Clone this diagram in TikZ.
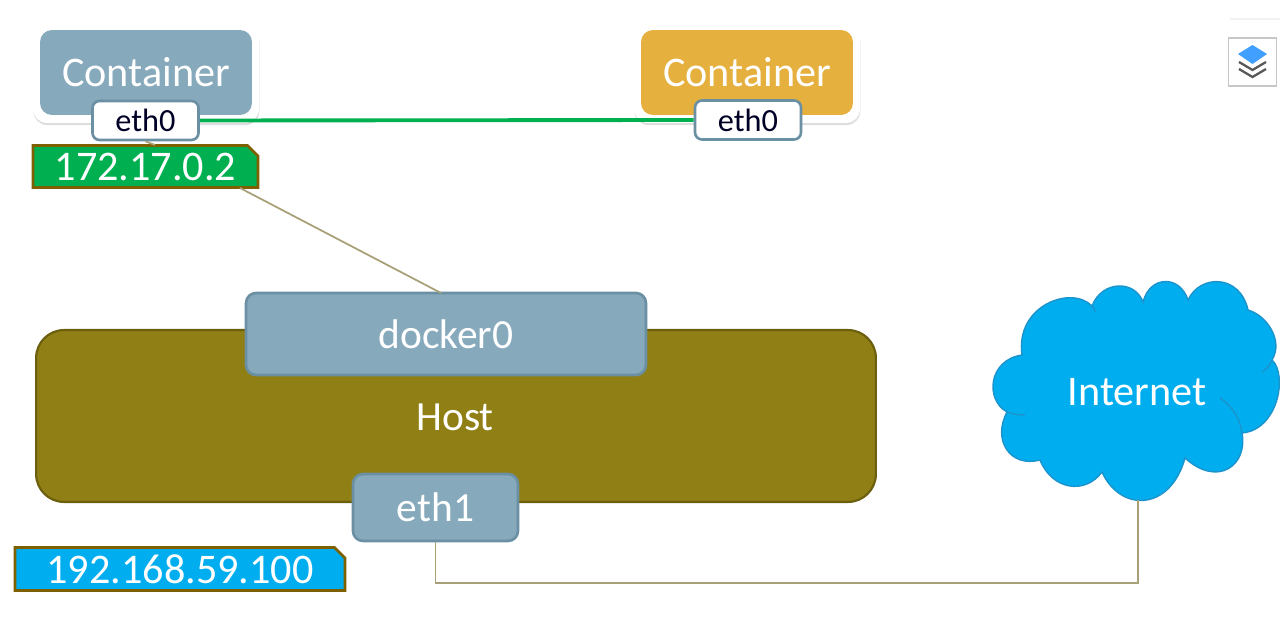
\documentclass[tikz,border=0pt]{standalone}
\usepackage{fontspec}
\setmainfont{Carlito}
\usetikzlibrary{shapes.misc,shadows}

\definecolor{boxblue}{HTML}{86A9BC}
\definecolor{boxedge}{HTML}{6B8FA3}
\definecolor{boxgold}{HTML}{E5B03E}
\definecolor{hostfill}{HTML}{8F7F14}
\definecolor{hostedge}{HTML}{6B5E0E}
\definecolor{tagedge}{HTML}{7F6000}
\definecolor{tiegreen}{HTML}{00B050}
\definecolor{skyblue}{HTML}{00AEEF}
\definecolor{skyedge}{HTML}{1C93CC}
\definecolor{wire}{HTML}{A8A078}

\tikzset{
    backing/.style={rectangle, rounded corners=0.28cm, fill=white,
        minimum width=4.52cm, minimum height=1.94cm, inner sep=0pt,
        drop shadow={shadow xshift=0.2pt, shadow yshift=-1.2pt, fill=black!22, opacity=0.6}},
    container/.style={rectangle, rounded corners=0.24cm, text=white,
        minimum width=4.24cm, minimum height=1.7cm, inner sep=0pt,
        font=\fontsize{24}{26}\selectfont},
    port/.style={rectangle, rounded corners=0.14cm, fill=white, draw=boxedge, line width=1.5pt,
        minimum width=2.12cm, minimum height=0.78cm, inner sep=0pt, text=black!85!blue,
        font=\fontsize{18.4}{20}\selectfont},
    iptag/.style={chamfered rectangle, chamfered rectangle corners=north east,
        chamfered rectangle xsep=3pt, chamfered rectangle ysep=3pt,
        draw=tagedge, line width=1.5pt, text=white, inner sep=0pt,
        minimum height=0.84cm, font=\fontsize{24}{26}\selectfont},
    bluebox/.style={rectangle, rounded corners=0.2cm, fill=boxblue, draw=boxedge, line width=1.5pt,
        text=white, inner sep=0pt, font=\fontsize{23.6}{26}\selectfont},
    wireline/.style={draw=wire, line width=1pt}
}

\begin{document}
\begin{tikzpicture}[x=0.02cm,y=-0.02cm]
    \useasboundingbox (0,0) rectangle (1280,624);

    \node[backing] (backa) at (146,74.5) {};
    \node[backing] (backb) at (747,74.5) {};
    \node[container, fill=boxblue] (conta) at (146,72.5) {Container};
    \node[container, fill=boxgold] (contb) at (747,72.5) {Container};
    \node[port] (etha) at (145.5,120.5) {eth0};
    \node[port] (ethb) at (748,120) {eth0};
    \node[iptag, fill=tiegreen, minimum width=4.5cm] (ipa) at (145.5,166.5) {172.17.0.2};

    \node[rectangle, rounded corners=0.56cm, fill=hostfill, draw=hostedge, line width=1.2pt,
        minimum width=16.8cm, minimum height=3.44cm, inner sep=0pt] (host) at (456,416) {};
    \node[text=white, font=\fontsize{23.6}{26}\selectfont] (hostlabel) at (455,417) {Host};
    \node[bluebox, minimum width=8cm, minimum height=1.64cm] (docker) at (446,334) {docker0};
    \node[bluebox, minimum width=3.3cm, minimum height=1.34cm] (ethc) at (435.5,507.5) {eth1};
    \node[iptag, fill=skyblue, minimum width=6.6cm, minimum height=0.86cm] (ipb) at (180,569) {192.168.59.100};

    \filldraw[fill=skyblue, draw=skyedge, line width=0.8pt]
        (1022,355) .. controls (1015,305) and (1072,285) .. (1092,306)
        .. controls (1102,280) and (1135,280) .. (1143,302)
        .. controls (1150,275) and (1180,275) .. (1188,300)
        .. controls (1200,274) and (1240,274) .. (1248,310)
        .. controls (1266,315) and (1284,340) .. (1272,360)
        .. controls (1288,375) and (1278,430) .. (1242,433)
        .. controls (1248,465) and (1218,488) .. (1185,458)
        .. controls (1170,512) and (1120,512) .. (1102,472)
        .. controls (1085,495) and (1052,490) .. (1040,460)
        .. controls (1010,468) and (992,440) .. (1007,412)
        .. controls (985,400) and (988,360) .. (1022,355) -- cycle;
    \draw[skyedge, line width=0.8pt] (1242,433) .. controls (1240,418) and (1232,406) .. (1220,398);
    \draw[skyedge, line width=0.8pt] (1007,412) .. controls (1012,414) and (1018,415) .. (1025,415);
    \draw[skyedge, line width=0.8pt] (1272,360) .. controls (1270,365) and (1267,369) .. (1262,372);
    \draw[skyedge, line width=0.8pt] (1092,306) .. controls (1094,308) and (1095,310) .. (1095,312);
    \node[text=white, font=\fontsize{24}{26}\selectfont] (inet) at (1137,392) {Internet};

    \coordinate (inetfoot) at (1138,500);
    \coordinate (bend) at (1138,583);
    \coordinate (dockertop) at (441,293);
    \coordinate (ipafoot) at (240,188);
    \coordinate (ipatop) at (155,145);

    \draw[tiegreen, line width=2.2pt] (etha.east) -- (ethb.west);
    \draw[wireline] (ipafoot) -- (dockertop);
    \draw[wireline] (etha.south) -- (ipatop);
    \draw[wireline] (ethc.south) |- (bend) -- (inetfoot);

    \fill[black!5] (1230,18) rectangle (1280,20);
    \node[rectangle, draw=black!22, fill=white, line width=1pt, minimum size=0.96cm, inner sep=0pt] (layers) at (1252.5,62) {};
    \draw[black!65, line width=1.3pt] (1239,62) -- (1252.5,70) -- (1266,62);
    \draw[black!65, line width=1.3pt] (1239,69) -- (1252.5,77) -- (1266,69);
    \fill[blue!50!cyan!75!white] (1238,54) -- (1252.5,45) -- (1267,54) -- (1252.5,64) -- cycle;
\end{tikzpicture}
\end{document}
